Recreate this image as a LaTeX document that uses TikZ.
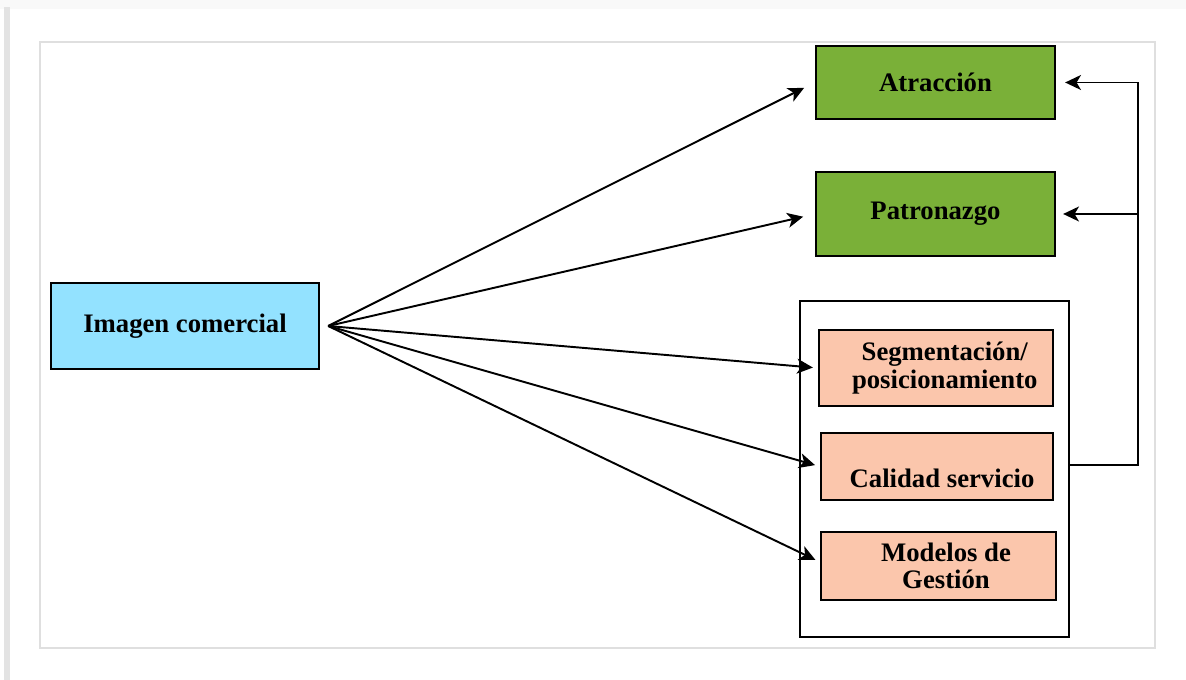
\documentclass[tikz,border=0pt]{standalone}
\usepackage{fontspec}
\setmainfont{Liberation Serif}
\usetikzlibrary{arrows.meta}
\definecolor{skyblue}{RGB}{147,226,255}
\definecolor{leafgreen}{RGB}{122,176,56}
\definecolor{salmonpink}{RGB}{251,198,172}

\begin{document}
\begin{tikzpicture}[
  font=\fontsize{15.2}{15.6}\selectfont\bfseries,
  box/.style={draw=black, line width=1.3pt, rectangle, align=center, inner sep=2pt},
  arr/.style={-{Stealth[length=9pt,width=8.5pt,inset=2.5pt]}, line width=1.1pt}
]
% page shadow and frame
\useasboundingbox (0,0) rectangle (23.72,13.6);
\fill[gray!5] (0,13.42) rectangle (23.72,13.6);
\fill[gray!22] (0.08,0) rectangle (0.2,13.46);
\draw[gray!25, line width=0.8pt] (0.8,0.64) rectangle (23.1,12.76);

% boxes
\node (img) [box, fill=skyblue, minimum width=5.36cm, minimum height=1.72cm] at (3.70,7.08) {Imagen comercial};
\node (atr) [box, fill=leafgreen, minimum width=4.78cm, minimum height=1.46cm] at (18.71,11.95) {Atracción};
\node (pat) [box, fill=leafgreen, minimum width=4.78cm, minimum height=1.68cm] at (18.71,9.32) {Patronazgo};

\draw[black, line width=1.3pt] (16.0,0.86) rectangle (21.38,7.58);
\node (seg) [box, fill=salmonpink, minimum width=4.68cm, minimum height=1.52cm] at (18.72,6.24) {\hspace*{0.35cm}Segmentación/\\\hspace*{0.35cm}posicionamiento};
\node (cal) [box, fill=salmonpink, minimum width=4.64cm, minimum height=1.34cm] at (18.74,4.27) {\mbox{}\\[8pt]\hspace*{0.2cm}Calidad servicio};
\node (mod) [box, fill=salmonpink, minimum width=4.70cm, minimum height=1.36cm] at (18.77,2.28) {\hspace*{0.3cm}Modelos de\\\hspace*{0.3cm}Gestión};

% arrows from the image node
\coordinate (src) at ([xshift=0.16cm]img.east);
\draw[arr, shorten >=0.24cm] (src) -- (atr.west);
\draw[arr, shorten >=0.24cm] (src) -- (pat.west);
\draw[arr, shorten >=0.1cm] (src) -- (seg.west);
\draw[arr, shorten >=0.1cm] (src) -- (cal.west);
\draw[arr, shorten >=0.1cm] (src) -- ([yshift=0.08cm]mod.west);

% feedback
\coordinate (bus) at (22.76,4.3);
\draw[arr, shorten >=0.18cm] (21.38,4.3) -- (bus) |- (atr.east);
\draw[arr, shorten >=0.14cm] (bus |- pat.east) -- (pat.east);
\end{tikzpicture}
\end{document}
